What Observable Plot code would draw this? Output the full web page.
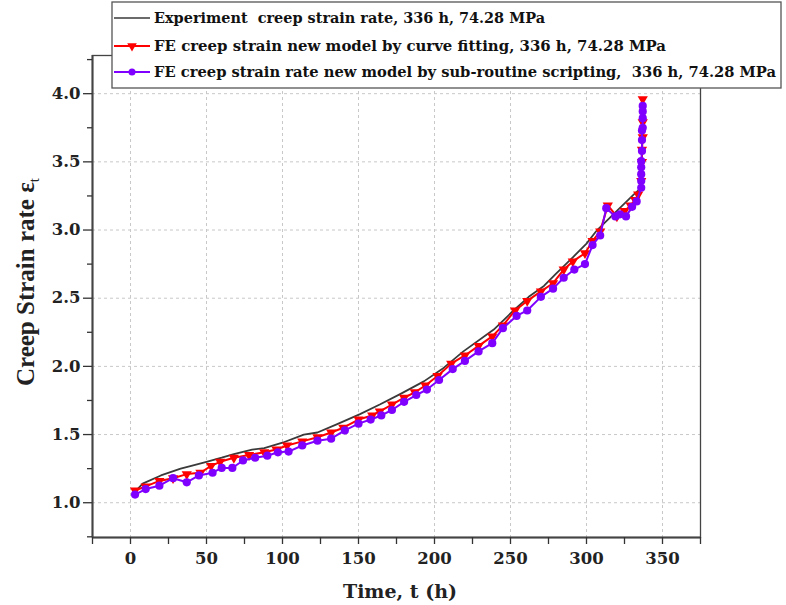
<!DOCTYPE html>
<html><head><meta charset="utf-8">
<script src="https://cdn.jsdelivr.net/npm/d3@7"></script>
<script src="https://cdn.jsdelivr.net/npm/@observablehq/plot@0.6"></script>
<style>body{margin:0;background:#fff;}#chart{position:relative;width:786px;height:605px;}</style>
</head><body><div id="chart"></div>
<script>
// Experiment creep strain rate
const expT = [3, 8, 20, 33, 40, 50, 60, 68, 80, 88, 100, 114, 123, 136, 151, 164, 178, 193, 205, 219, 239, 252, 262, 272, 280, 291, 300, 307, 320, 331, 335];
const expY = [1.08, 1.14, 1.20, 1.25, 1.27, 1.30, 1.33, 1.357, 1.39, 1.40, 1.44, 1.50, 1.515, 1.577, 1.65, 1.72, 1.80, 1.89, 1.98, 2.11, 2.27, 2.41, 2.51, 2.59, 2.68, 2.80, 2.90, 3.00, 3.14, 3.26, 3.30];
// FE new model by curve fitting
const fitT = [3, 10, 19, 28, 37, 46, 53, 59, 68, 78, 88, 96, 103, 113, 123, 132, 140, 150, 159, 164, 172, 180, 187, 194, 202, 211, 220, 229, 238, 245, 253, 261, 270, 278, 285, 291, 299, 304, 309, 314, 320, 325, 329, 332, 334, 336, 336.5, 336.5, 337, 337, 337];
const fitY = [1.09, 1.12, 1.16, 1.18, 1.21, 1.22, 1.27, 1.30, 1.33, 1.35, 1.37, 1.39, 1.42, 1.45, 1.48, 1.515, 1.55, 1.61, 1.64, 1.67, 1.72, 1.77, 1.81, 1.86, 1.93, 2.02, 2.08, 2.15, 2.22, 2.30, 2.41, 2.48, 2.55, 2.61, 2.71, 2.77, 2.83, 2.92, 2.99, 3.18, 3.10, 3.14, 3.18, 3.22, 3.26, 3.36, 3.50, 3.59, 3.68, 3.79, 3.96];
// FE new model by sub-routine scripting
const subT = [3, 10, 19, 28, 37, 45, 54, 60, 67, 74, 82, 90, 97, 104, 113, 123, 132, 141, 150, 158, 165, 172, 180, 188, 195, 203, 212, 220, 229, 238, 245, 254, 261, 270, 278, 285, 292, 299, 304, 309, 313, 319, 322, 326, 330, 333, 336, 336, 336, 336, 336, 336.5, 336.5, 336.5, 337, 337, 337, 337];
const subY = [1.06, 1.10, 1.125, 1.18, 1.15, 1.20, 1.22, 1.255, 1.255, 1.31, 1.33, 1.345, 1.37, 1.375, 1.42, 1.455, 1.47, 1.53, 1.58, 1.61, 1.64, 1.68, 1.74, 1.79, 1.83, 1.90, 1.98, 2.04, 2.11, 2.17, 2.28, 2.37, 2.41, 2.51, 2.57, 2.65, 2.71, 2.75, 2.89, 2.96, 3.16, 3.10, 3.115, 3.10, 3.17, 3.21, 3.31, 3.36, 3.41, 3.46, 3.505, 3.58, 3.66, 3.73, 3.75, 3.82, 3.87, 3.91];

const xTicks = [0, 50, 100, 150, 200, 250, 300, 350];
const xMinor = [-25, 25, 75, 125, 175, 225, 275, 325, 375];
const yTicks = [1.0, 1.5, 2.0, 2.5, 3.0, 3.5, 4.0];
const yMinor = [0.75, 1.25, 1.75, 2.25, 2.75, 3.25, 3.75, 4.25];
const legendLabels = [
  "Experiment  creep strain rate, 336 h, 74.28 MPa",
  "FE creep strain new model by curve fitting, 336 h, 74.28 MPa",
  "FE creep strain rate new model by sub-routine scripting,  336 h, 74.28 MPa"
];
const xTitle = "Time, t (h)";
const yTitle = "Creep Strain rate ε";
const yTitleSub = "t";

const exp = expT.map((t, i) => ({t, y: expY[i]}));
const fit = fitT.map((t, i) => ({t, y: fitY[i]}));
const sub = subT.map((t, i) => ({t, y: subY[i]}));

const colors = ["#3a3a3a", "#ff0000", "#8000ff"];
const xDom = [-25, 375], yDom = [0.745, 4.28];
const tickFont = {fontSize: 16.5, fontWeight: "bold", fontFamily: "DejaVu Serif", fill: "#222"};

const plot = Plot.plot({
  width: 786, height: 605,
  marginLeft: 92, marginRight: 86, marginTop: 55, marginBottom: 68,
  x: {domain: xDom},
  y: {domain: yDom},
  style: {background: "white", overflow: "visible"},
  marks: [
    Plot.gridX(xTicks, {stroke: "#c8c8c8", strokeOpacity: 1, strokeDasharray: "3,3"}),
    Plot.gridY(yTicks, {stroke: "#c8c8c8", strokeOpacity: 1, strokeDasharray: "3,3"}),
    Plot.frame({stroke: "#444", strokeWidth: 1.3}),
    Plot.ruleX([xDom[0]], {stroke: "#444", strokeWidth: 2}),
    Plot.ruleY([yDom[0]], {stroke: "#444", strokeWidth: 2}),
    Plot.axisX(xMinor, {tickSize: 7, tickFormat: () => "", stroke: "#333", strokeWidth: 1.3, label: null}),
    Plot.axisX(xTicks, {tickSize: 7, tickPadding: 8, tickFormat: d => String(d), stroke: "#333", strokeWidth: 1.3, label: null, ...tickFont}),
    Plot.axisY(yMinor, {tickSize: 5, tickFormat: () => "", stroke: "#333", strokeWidth: 1.3, label: null}),
    Plot.axisY(yTicks, {tickSize: 9, tickPadding: 3, tickFormat: d => d.toFixed(1), stroke: "#333", strokeWidth: 1.3, label: null, ...tickFont}),
    Plot.line(exp, {x: "t", y: "y", stroke: colors[0], strokeWidth: 1.8}),
    Plot.line(fit, {x: "t", y: "y", stroke: colors[1], strokeWidth: 2}),
    Plot.dot(fit, {x: "t", y: "y", symbol: "triangle", rotate: 180, r: 3.8, fill: colors[1], stroke: "none"}),
    Plot.line(sub, {x: "t", y: "y", stroke: colors[2], strokeWidth: 2}),
    Plot.dot(sub, {x: "t", y: "y", r: 4.1, fill: colors[2], stroke: "none"})
  ]
});

const svg = d3.select(plot);
// axis titles
svg.append("text")
  .attr("x", 400).attr("y", 598).attr("text-anchor", "middle")
  .attr("font-family", "DejaVu Serif").attr("font-weight", "bold").attr("font-size", 19).attr("fill", "#222")
  .text(xTitle);
const yt = svg.append("text")
  .attr("transform", "translate(34,282) rotate(-90)").attr("text-anchor", "middle")
  .attr("font-family", "Liberation Serif").attr("font-weight", "bold").attr("font-size", 25).attr("fill", "#222");
yt.append("tspan").text(yTitle);
yt.append("tspan").attr("font-size", 15).attr("dy", 5).attr("font-weight", "normal").text(yTitleSub);

// legend
const lg = svg.append("g").attr("text-anchor", "start");
lg.append("rect").attr("x", 112).attr("y", 2).attr("width", 669).attr("height", 86)
  .attr("fill", "white").attr("stroke", "#555").attr("stroke-width", 1.3);
const rowsY = [18, 46, 72];
const lens = [391, 512, 622];
legendLabels.forEach((lab, i) => {
  const y = rowsY[i];
  lg.append("line").attr("x1", 114).attr("x2", 150).attr("y1", y).attr("y2", y)
    .attr("stroke", colors[i]).attr("stroke-width", i === 0 ? 1.6 : 2);
  if (i === 1) lg.append("path").attr("d", d3.symbol(d3.symbolTriangle, 40)()).attr("transform", `translate(132,${y}) rotate(180)`).attr("fill", colors[1]);
  if (i === 2) lg.append("circle").attr("cx", 132).attr("cy", y).attr("r", 3.5).attr("fill", colors[2]);
  lg.append("text").attr("x", 154).attr("y", y + 5).attr("text-anchor", "start")
    .attr("font-family", "DejaVu Serif").attr("font-weight", "bold")
    .attr("font-size", 14).attr("fill", "#111").attr("textLength", lens[i]).attr("lengthAdjust", "spacingAndGlyphs").text(lab);
});

document.getElementById("chart").appendChild(plot);
</script>
</body></html>
